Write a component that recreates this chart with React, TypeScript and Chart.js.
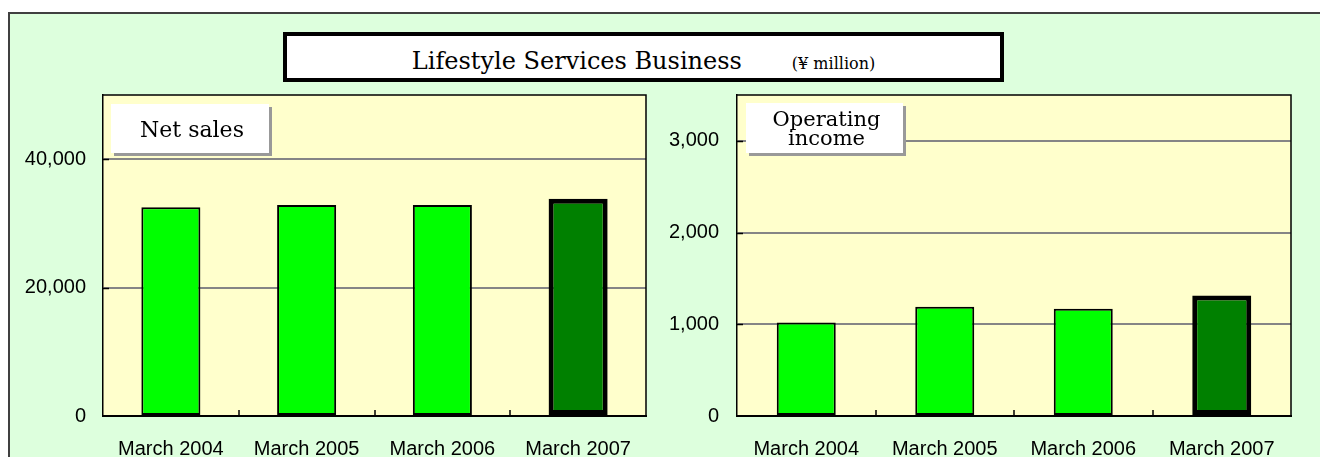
import React, { useEffect, useRef } from "react";
import { Chart, registerables } from "chart.js";

Chart.register(...registerables);

const categories = ["March 2004", "March 2005", "March 2006", "March 2007"];
const netSales = [32500, 32850, 32850, 33850];
const operatingIncome = [1020, 1190, 1170, 1315];
const netSalesTicks = [0, 20000, 40000];
const incomeTicks = [0, 1000, 2000, 3000];
const netSalesMax = 50000;
const incomeMax = 3500;
const barColors = ["#00FF00", "#00FF00", "#00FF00", "#008000"];
const barBorderWidths = [2, 2, 2, 5];
const titleMain = "Lifestyle Services Business";
const titleUnit = "(¥ million)";

const TICK_FONT = { family: "'Liberation Sans', Arial, sans-serif", size: 20 };

function makeChart(
  canvas: HTMLCanvasElement,
  values: number[],
  tickValues: number[],
  max: number,
  yWidth: number,
  padRight: number,
  yPad: number,
  barPct: number
) {
  const deco = {
    id: "deco",
    beforeDraw(chart: any) {
      const { ctx, chartArea: a } = chart;
      ctx.save();
      ctx.fillStyle = "#FFFFCC";
      ctx.fillRect(a.left, a.top, a.right - a.left, a.bottom - a.top);
      ctx.restore();
    },
    afterDraw(chart: any) {
      const { ctx, chartArea: a } = chart;
      const xs = chart.scales.x;
      const ys = chart.scales.y;
      ctx.save();
      ctx.strokeStyle = "#000";
      ctx.lineWidth = 1.5;
      ctx.beginPath();
      ctx.moveTo(a.left, a.top);
      ctx.lineTo(a.right, a.top);
      ctx.lineTo(a.right, a.bottom);
      ctx.stroke();
      // inward y ticks
      ys.ticks.forEach((t: any) => {
        if (t.value === 0) return;
        const y = Math.round(ys.getPixelForValue(t.value)) + 0.5;
        ctx.beginPath();
        ctx.moveTo(a.left, y);
        ctx.lineTo(a.left + 6, y);
        ctx.stroke();
      });
      // inward x ticks at category boundaries
      for (let i = 1; i < categories.length; i++) {
        const x = Math.round((xs.getPixelForValue(i - 1) + xs.getPixelForValue(i)) / 2);
        ctx.beginPath();
        ctx.moveTo(x, a.bottom);
        ctx.lineTo(x, a.bottom - 6);
        ctx.stroke();
      }
      ctx.restore();
    },
  };

  return new Chart(canvas, {
    type: "bar",
    data: {
      labels: categories,
      datasets: [
        {
          data: values,
          backgroundColor: barColors,
          borderColor: "#000",
          borderWidth: barBorderWidths,
          borderSkipped: false,
          barPercentage: barPct,
          categoryPercentage: 1,
        },
      ],
    },
    options: {
      animation: false,
      responsive: false,
      devicePixelRatio: 1,
      layout: { padding: { left: 0, right: padRight, top: 15, bottom: 0 } },
      plugins: { legend: { display: false }, tooltip: { enabled: false }, title: { display: false } },
      scales: {
        x: {
          offset: true,
          grid: { display: false },
          border: { display: true, color: "#000", width: 2 },
          ticks: {
            color: "#000",
            font: TICK_FONT,
            padding: 13,
            maxRotation: 0,
            autoSkip: false,
          },
          afterFit(scale: any) {
            scale.height = 41;
            scale.paddingLeft = 0;
            scale.paddingRight = 0;
          },
        },
        y: {
          min: 0,
          max: max,
          grid: {
            drawTicks: false,
            color: (c: any) => (c.tick && c.tick.value === 0 ? "rgba(0,0,0,0)" : "#858585"),
            lineWidth: 2,
          },
          border: { display: true, color: "#000", width: 1.5 },
          ticks: {
            color: "#000",
            font: TICK_FONT,
            padding: yPad,
            callback: (v: any) => Number(v).toLocaleString("en-US"),
          },
          afterBuildTicks(scale: any) {
            scale.ticks = tickValues.map((v) => ({ value: v }));
          },
          afterFit(scale: any) {
            scale.width = yWidth;
            scale.paddingTop = 0;
            scale.paddingBottom = 0;
          },
        },
      },
    },
    plugins: [deco],
  } as any);
}

export default function App() {
  const leftRef = useRef<HTMLCanvasElement>(null);
  const rightRef = useRef<HTMLCanvasElement>(null);

  useEffect(() => {
    const c1 = makeChart(leftRef.current!, netSales, netSalesTicks, netSalesMax, 103, 4, 17, 0.435);
    const c2 = makeChart(rightRef.current!, operatingIncome, incomeTicks, incomeMax, 87, 29, 18, 0.426);
    return () => {
      c1.destroy();
      c2.destroy();
    };
  }, []);

  const serif = "'DejaVu Serif', serif";
  const labelBox: React.CSSProperties = {
    position: "absolute",
    background: "#fff",
    boxShadow: "3px 3px 0 #999",
    fontFamily: serif,
    color: "#000",
    textAlign: "center",
    boxSizing: "border-box",
    zIndex: 3,
  };

  return (
    <div style={{ position: "absolute", left: 0, top: 0, width: 1320, height: 457, overflow: "hidden", background: "#fff" }}>
      <div
        style={{
          position: "absolute",
          left: 8,
          top: 12,
          width: 1400,
          height: 600,
          border: "2px solid #404040",
          background: "#DDFFDD",
          boxSizing: "border-box",
        }}
      />
      <canvas
        ref={leftRef}
        width={650}
        height={377}
        style={{ position: "absolute", left: 0, top: 80, width: 650, height: 377, display: "block", zIndex: 1 }}
      />
      <canvas
        ref={rightRef}
        width={670}
        height={377}
        style={{ position: "absolute", left: 650, top: 80, width: 670, height: 377, display: "block", zIndex: 1 }}
      />
      <div
        style={{
          position: "absolute",
          left: 283,
          top: 32,
          width: 721,
          height: 50,
          border: "4px solid #000",
          background: "#fff",
          boxSizing: "border-box",
          textAlign: "center",
          fontFamily: serif,
          color: "#000",
          paddingTop: 13,
          lineHeight: "24px",
          whiteSpace: "nowrap",
          zIndex: 3,
        }}
      >
        <span style={{ fontSize: 24 }}>{titleMain}</span>
        <span style={{ fontSize: 16, marginLeft: 50 }}>{titleUnit}</span>
      </div>
      <div style={{ ...labelBox, left: 111, top: 104, width: 158, height: 49, fontSize: 22, lineHeight: "22px", paddingTop: 15, paddingLeft: 4 }}>
        Net sales
      </div>
      <div style={{ ...labelBox, left: 746, top: 103, width: 157, height: 50, fontSize: 21, lineHeight: "19px", paddingTop: 7, paddingLeft: 4 }}>
        Operating
        <br />
        income
      </div>
    </div>
  );
}
